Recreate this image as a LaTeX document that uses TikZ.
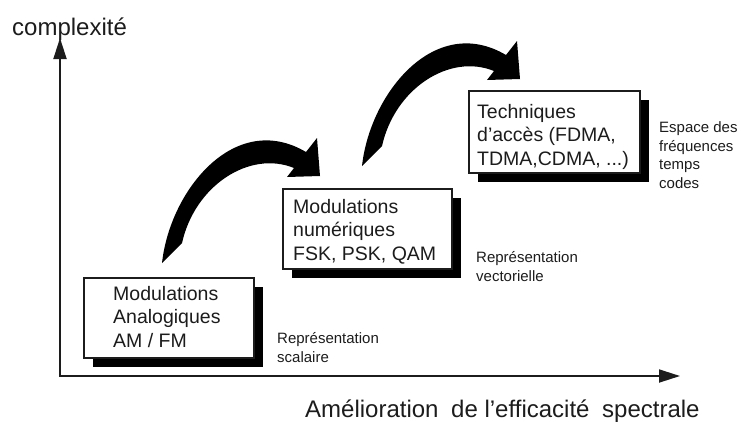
\documentclass[tikz,border=0pt]{standalone}
\usepackage{fontspec}
\setmainfont{Liberation Sans}
\definecolor{ink}{HTML}{1C1C1C}
\usetikzlibrary{arrows.meta,shadows}

\begin{document}
\begin{tikzpicture}[x=1pt, y=-1pt,
  stage/.style={rectangle, draw=ink, line width=1.8pt, fill=white, anchor=north west,
                inner sep=0pt, drop shadow={shadow xshift=9pt, shadow yshift=-9pt,
                fill=black, opacity=1}},
  stxt/.style={anchor=base west, inner sep=0pt, align=left, text=ink,
               font=\fontsize{19.5}{23.5}\selectfont},
  note/.style={anchor=base west, inner sep=0pt, align=left, text=ink,
               font=\fontsize{15}{19}\selectfont},
  axlbl/.style={anchor=base west, inner sep=0pt, text=ink, font=\fontsize{24}{28}\selectfont},
  hop/.pic={\fill[black] (0,0) .. controls (8,-73) and (73,-153) .. (144,-111)
              -- (155,-125) -- (158,-87) -- (125,-86) -- (132,-95)
              .. controls (88,-113) and (33,-78) .. (20,-20) -- cycle;},
]
\useasboundingbox (0,0) rectangle (744,421);

\coordinate (org) at (60,376);
\coordinate (ytip) at (60,38);
\coordinate (xtip) at (680,376);
\draw[line width=1.8pt, ink, {Triangle[length=21pt,width=13pt]}-{Triangle[length=21pt,width=13pt]}]
  (ytip) |- (xtip);
\node[axlbl] (ylbl) at (12,35) {complexité};
\node[axlbl] (xlbl) at (305,417) {Amélioration\hspace{0.25em} de l'efficacité\hspace{0.25em} spectrale};

\node[stage, minimum width=170pt, minimum height=80pt] (b1) at (83,277) {};
\node[stxt] (t1) at (113,347) {Modulations\\Analogiques\\AM / FM};
\node[note] (n1) at (277,362) {Représentation\\scalaire};

\node[stage, minimum width=169pt, minimum height=80pt] (b2) at (282,188) {};
\node[stxt] (t2) at (293,260) {Modulations\\numériques\\FSK, PSK, QAM};
\node[note] (n2) at (476,281) {Représentation\\vectorielle};

\node[stage, minimum width=171pt, minimum height=82pt] (b3) at (468,90) {};
\node[stxt] (t3) at (477,165) {Techniques\\d'accès (FDMA,\\TDMA,CDMA, ...)};
\node[note, font=\fontsize{15}{18.5}\selectfont] (n3) at (659,188) {Espace des\\fréquences\\temps\\codes};

\pic at ([shift={(79,-14)}]b1.north west) {hop};
\pic at ([shift={(80,-22)}]b2.north west) {hop};
\end{tikzpicture}
\end{document}
